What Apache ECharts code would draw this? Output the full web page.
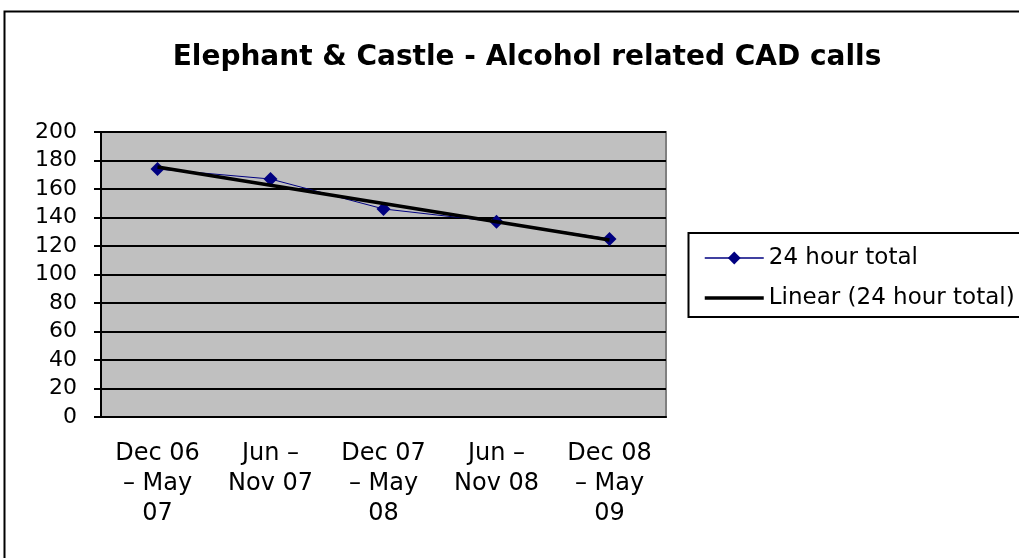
<!DOCTYPE html>
<html>
<head>
<meta charset="utf-8">
<script src="https://cdn.jsdelivr.net/npm/echarts@6/dist/echarts.min.js"></script>
<style>
  html, body { margin: 0; padding: 0; background: #fff; }
  #chart { width: 1019px; height: 558px; }
</style>
</head>
<body>
<div id="chart"></div>
<script>
// Tick labels on the category axis, as wrapped in the original
const periods = [
  "Dec 06\n– May\n07",
  "Jun –\nNov 07",
  "Dec 07\n– May\n08",
  "Jun –\nNov 08",
  "Dec 08\n– May\n09",
];
// 24 hour total calls per period
const totals = [174, 167, 146, 137, 125];
// Linear trend line as drawn in the chart
const trend = [175.4, 162.6, 149.8, 137.0, 124.2];

const chart = echarts.init(document.getElementById("chart"), null, {
  renderer: "canvas",
});

const font = "DejaVu Sans, Verdana, sans-serif";

const option = {
  animation: false,
  textStyle: { fontFamily: font },
  title: {
    text: "Elephant & Castle - Alcohol related CAD calls",
    left: 522,
    textAlign: "center",
    top: 39,
    textStyle: { fontSize: 28, fontWeight: "bold", color: "#000", fontFamily: font },
  },
  graphic: [
    {
      // outer chart border
      type: "rect",
      shape: { x: 4.5, y: 11.5, width: 1040, height: 580 },
      style: { fill: "none", stroke: "#000", lineWidth: 2 },
      silent: true,
    },
    {
      // legend box
      type: "rect",
      shape: { x: 688.5, y: 233, width: 360, height: 84 },
      style: { fill: "none", stroke: "#000", lineWidth: 2 },
      silent: true,
    },
  ],
  legend: {
    orient: "vertical",
    left: 698,
    top: 241,
    itemGap: 16,
    itemWidth: 59,
    itemHeight: 16,
    textStyle: { fontSize: 23, lineHeight: 24, color: "#000", fontFamily: font },
    data: [
      { name: "24 hour total", lineStyle: { width: 1.5 } },
      {
        name: "Linear (24 hour total)",
        itemStyle: { opacity: 0 },
        lineStyle: { width: 3.5 },
      },
    ],
  },
  grid: {
    left: 101,
    top: 132,
    width: 565,
    height: 285,
    show: true,
    backgroundColor: "#c0c0c0",
    borderColor: "#808080",
    borderWidth: 2,
  },
  xAxis: {
    type: "category",
    data: periods,
    boundaryGap: true,
    axisLine: { lineStyle: { color: "#000", width: 2 } },
    axisTick: { length: 8, lineStyle: { color: "#000", width: 2 } },
    axisLabel: {
      color: "#000",
      fontSize: 24,
      lineHeight: 30,
      margin: 22,
      interval: 0,
      align: "center",
    },
  },
  yAxis: {
    type: "value",
    min: 0,
    max: 200,
    interval: 20,
    axisLine: { show: true, lineStyle: { color: "#000", width: 2 } },
    axisTick: { show: true, length: 7, lineStyle: { color: "#000", width: 2 } },
    axisLabel: { color: "#000", fontSize: 22, margin: 24 },
    splitLine: { lineStyle: { color: "#000", width: 2 } },
  },
  series: [
    {
      name: "24 hour total",
      type: "line",
      data: totals,
      symbol: "diamond",
      symbolSize: 14,
      lineStyle: { color: "#000080", width: 1 },
      itemStyle: { color: "#000080" },
      z: 2,
    },
    {
      name: "Linear (24 hour total)",
      type: "line",
      data: trend,
      symbol: "none",
      lineStyle: { color: "#000", width: 3.5 },
      itemStyle: { color: "#000" },
      z: 3,
    },
  ],
};

chart.setOption(option);
window.addEventListener("resize", chart.resize);
</script>
</body>
</html>
